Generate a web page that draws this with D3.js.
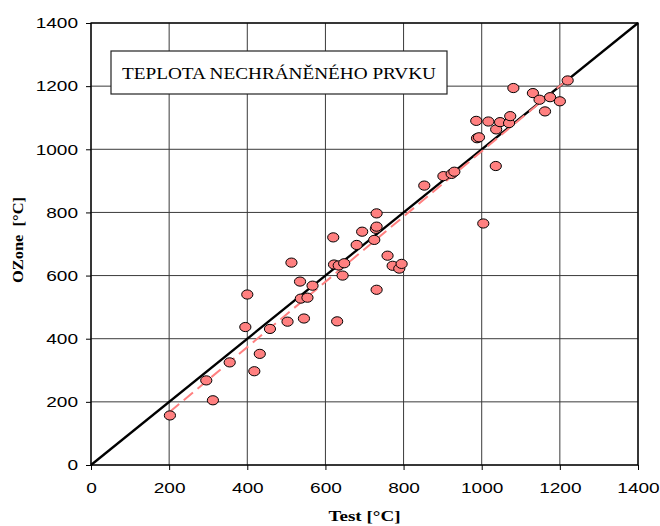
<!DOCTYPE html>
<html>
<head>
<meta charset="utf-8">
<script src="https://cdn.jsdelivr.net/npm/d3@7"></script>
<style>
  body { margin: 0; background: #fff; }
  svg { display: block; }
</style>
</head>
<body>
<div id="chart-area"></div>
<script>
const MARGIN = {LEFT: 91, RIGHT: 22, TOP: 23, BOTTOM: 61}
const WIDTH = 660 - MARGIN.LEFT - MARGIN.RIGHT
const HEIGHT = 526 - MARGIN.TOP - MARGIN.BOTTOM
const STRETCH = 1.27   // the original text is drawn wider than normal

// data
const testVals = [202, 295, 312, 355, 395, 400, 418, 432, 458, 503, 513, 535, 537, 545, 554, 567,
  620, 622, 630, 634, 644, 648, 680, 694, 725, 729, 731, 731, 731, 759, 772, 789, 795,
  853, 902, 923, 930, 986, 988, 993, 1004, 1017, 1036, 1037, 1047, 1070, 1073, 1081,
  1131, 1148, 1162, 1175, 1200, 1220]
const ozoneVals = [157, 268, 205, 325, 437, 540, 297, 352, 431, 454, 641, 581, 527, 464, 530, 568,
  721, 635, 455, 632, 600, 639, 697, 739, 713, 748, 755, 797, 555, 663, 631, 622, 637,
  885, 915, 922, 929, 1090, 1035, 1038, 765, 1088, 947, 1063, 1086, 1083, 1105, 1194,
  1178, 1157, 1120, 1165, 1152, 1218]
const tickVals = [0, 200, 400, 600, 800, 1000, 1200, 1400]
const titleText = "TEPLOTA NECHRÁNĚNÉHO PRVKU"

const data = testVals.map((t, i) => ({x: t, y: ozoneVals[i]}))

const svg = d3.select("#chart-area").append("svg")
    .attr("width", 660)
    .attr("height", 526)

const g = svg.append("g")
    .attr("transform", `translate(${MARGIN.LEFT}, ${MARGIN.TOP})`)

const x = d3.scaleLinear().domain([0, 1400]).range([0, WIDTH])
const y = d3.scaleLinear().domain([0, 1400]).range([HEIGHT, 0])

function widen(sel) {
  sel.each(function() {
    const w = this.getComputedTextLength()
    d3.select(this).attr("textLength", w * STRETCH).attr("lengthAdjust", "spacingAndGlyphs")
  })
}

// grid
g.append("g")
  .selectAll("line")
  .data(tickVals)
  .enter().append("line")
  .attr("x1", d => x(d)).attr("x2", d => x(d))
  .attr("y1", 0).attr("y2", HEIGHT)
  .attr("stroke", "#3a3a3a").attr("stroke-width", 1)
g.append("g")
  .selectAll("line")
  .data(tickVals)
  .enter().append("line")
  .attr("y1", d => y(d)).attr("y2", d => y(d))
  .attr("x1", 0).attr("x2", WIDTH)
  .attr("stroke", "#3a3a3a").attr("stroke-width", 1)

// axes
const xAxisCall = d3.axisBottom(x).tickValues(tickVals).tickFormat(d3.format("d"))
  .tickSize(5).tickPadding(12)
const xAx = g.append("g")
  .attr("transform", `translate(0, ${HEIGHT})`)
  .call(xAxisCall)
xAx.select(".domain").remove()
xAx.selectAll("text").attr("font-family", "Liberation Sans, Arial, sans-serif")
  .attr("font-size", "15px").attr("fill", "#000").call(widen)

const yAxisCall = d3.axisLeft(y).tickValues(tickVals).tickFormat(d3.format("d"))
  .tickSize(5).tickPadding(8)
const yAx = g.append("g").call(yAxisCall)
yAx.select(".domain").remove()
yAx.selectAll("text").attr("font-family", "Liberation Sans, Arial, sans-serif")
  .attr("font-size", "15px").attr("fill", "#000").call(widen)

// frame
g.append("rect")
  .attr("width", WIDTH).attr("height", HEIGHT)
  .attr("fill", "none").attr("stroke", "#000").attr("stroke-width", 1.3)

// title box
g.append("rect")
  .attr("x", 20).attr("y", 28).attr("width", 336).attr("height", 43)
  .attr("fill", "#fff").attr("stroke", "#222").attr("stroke-width", 1.2)
g.append("text")
  .attr("x", 31).attr("y", 55.5)
  .attr("font-family", "Liberation Serif, Times New Roman, serif")
  .attr("font-size", "16px")
  .attr("textLength", 314).attr("lengthAdjust", "spacingAndGlyphs")
  .text(titleText)

// y = x line
g.append("line")
  .attr("x1", x(0)).attr("y1", y(0))
  .attr("x2", x(1400)).attr("y2", y(1400))
  .attr("stroke", "#000").attr("stroke-width", 2.3)

// linear trend from the points
const mx = d3.mean(data, d => d.x), my = d3.mean(data, d => d.y)
const slope = d3.sum(data, d => (d.x - mx) * (d.y - my)) / d3.sum(data, d => (d.x - mx) ** 2)
const icpt = my - slope * mx
const [x0, x1] = d3.extent(data, d => d.x)
g.append("line")
  .attr("x1", x(x0)).attr("y1", y(icpt + slope * x0))
  .attr("x2", x(x1)).attr("y2", y(icpt + slope * x1))
  .attr("stroke", "#ff8080").attr("stroke-width", 2)
  .attr("stroke-dasharray", "12,6")

// points
g.selectAll("ellipse")
  .data(data)
  .enter().append("ellipse")
  .attr("cx", d => x(d.x))
  .attr("cy", d => y(d.y))
  .attr("rx", 5.6).attr("ry", 4.6)
  .attr("fill", "#ff8080")
  .attr("stroke", "#000").attr("stroke-width", 1)

// X label
g.append("text")
  .attr("x", WIDTH / 2)
  .attr("y", HEIGHT + 56)
  .attr("font-family", "Liberation Serif, Times New Roman, serif")
  .attr("font-weight", "bold")
  .attr("font-size", "15px")
  .attr("text-anchor", "middle")
  .text("Test [°C]")
  .call(widen)

// Y label
g.append("text")
  .attr("x", -217)
  .attr("y", -68)
  .attr("font-family", "Liberation Serif, Times New Roman, serif")
  .attr("font-weight", "bold")
  .attr("font-size", "15px")
  .attr("text-anchor", "middle")
  .attr("transform", "rotate(-90)")
  .attr("xml:space", "preserve")
  .attr("textLength", 86).attr("lengthAdjust", "spacingAndGlyphs")
  .text("OZone  [°C]")
</script>
</body>
</html>
